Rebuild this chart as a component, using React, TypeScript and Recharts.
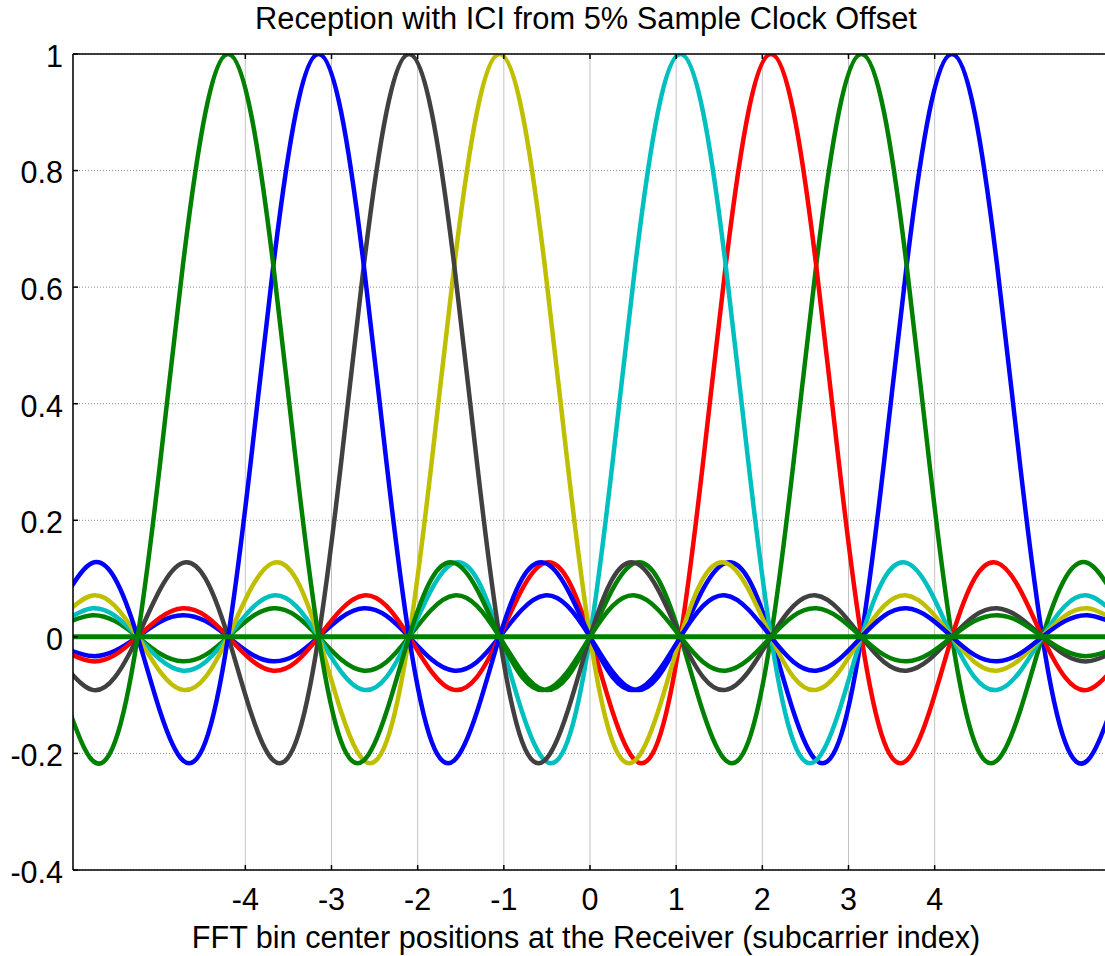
import {
  CartesianGrid,
  Line,
  LineChart,
  XAxis,
  YAxis,
} from "recharts";

// x positions of the samples (FFT bin units, spacing = 1.05/4)
const binPositions = [
  -6.0375, -5.775, -5.5125, -5.25, -4.9875, -4.725, -4.4625, -4.2, -3.9375,
  -3.675, -3.4125, -3.15, -2.8875, -2.625, -2.3625, -2.1, -1.8375, -1.575,
  -1.3125, -1.05, -0.7875, -0.525, -0.2625, 0, 0.2625, 0.525, 0.7875, 1.05,
  1.3125, 1.575, 1.8375, 2.1, 2.3625, 2.625, 2.8875, 3.15, 3.4125, 3.675,
  3.9375, 4.2, 4.4625, 4.725, 4.9875, 5.25, 5.5125, 5.775, 6.0375,
];

// received subcarrier responses
const subM4 = [
  -0.129, -0.212, -0.18, 0, 0.3, 0.637, 0.9, 1, 0.9, 0.637, 0.3, 0, -0.18,
  -0.212, -0.129, 0, 0.1, 0.127, 0.082, 0, -0.069, -0.091, -0.06, 0, 0.053,
  0.071, 0.047, 0, -0.043, -0.058, -0.039, 0, 0.036, 0.049, 0.033, 0, -0.031,
  -0.042, -0.029, 0, 0.027, 0.037, 0.026, 0, -0.024, -0.033, -0.023,
];
const subM3 = [
  0.082, 0.127, 0.1, 0, -0.129, -0.212, -0.18, 0, 0.3, 0.637, 0.9, 1, 0.9,
  0.637, 0.3, 0, -0.18, -0.212, -0.129, 0, 0.1, 0.127, 0.082, 0, -0.069,
  -0.091, -0.06, 0, 0.053, 0.071, 0.047, 0, -0.043, -0.058, -0.039, 0, 0.036,
  0.049, 0.033, 0, -0.031, -0.042, -0.029, 0, 0.027, 0.037, 0.026,
];
const subM2 = [
  -0.06, -0.091, -0.069, 0, 0.082, 0.127, 0.1, 0, -0.129, -0.212, -0.18, 0,
  0.3, 0.637, 0.9, 1, 0.9, 0.637, 0.3, 0, -0.18, -0.212, -0.129, 0, 0.1, 0.127,
  0.082, 0, -0.069, -0.091, -0.06, 0, 0.053, 0.071, 0.047, 0, -0.043, -0.058,
  -0.039, 0, 0.036, 0.049, 0.033, 0, -0.031, -0.042, -0.029,
];
const subM1 = [
  0.047, 0.071, 0.053, 0, -0.06, -0.091, -0.069, 0, 0.082, 0.127, 0.1, 0,
  -0.129, -0.212, -0.18, 0, 0.3, 0.637, 0.9, 1, 0.9, 0.637, 0.3, 0, -0.18,
  -0.212, -0.129, 0, 0.1, 0.127, 0.082, 0, -0.069, -0.091, -0.06, 0, 0.053,
  0.071, 0.047, 0, -0.043, -0.058, -0.039, 0, 0.036, 0.049, 0.033,
];
const sub0 = [
  0, 0, 0, 0, 0, 0, 0, 0, 0, 0, 0, 0, 0, 0, 0, 0, 0, 0, 0, 0, 0, 0, 0, 0, 0,
  0, 0, 0, 0, 0, 0, 0, 0, 0, 0, 0, 0, 0, 0, 0, 0, 0, 0, 0, 0, 0, 0,
];
const subP1 = [
  0.033, 0.049, 0.036, 0, -0.039, -0.058, -0.043, 0, 0.047, 0.071, 0.053, 0,
  -0.06, -0.091, -0.069, 0, 0.082, 0.127, 0.1, 0, -0.129, -0.212, -0.18, 0,
  0.3, 0.637, 0.9, 1, 0.9, 0.637, 0.3, 0, -0.18, -0.212, -0.129, 0, 0.1, 0.127,
  0.082, 0, -0.069, -0.091, -0.06, 0, 0.053, 0.071, 0.047,
];
const subP2 = [
  -0.029, -0.042, -0.031, 0, 0.033, 0.049, 0.036, 0, -0.039, -0.058, -0.043, 0,
  0.047, 0.071, 0.053, 0, -0.06, -0.091, -0.069, 0, 0.082, 0.127, 0.1, 0,
  -0.129, -0.212, -0.18, 0, 0.3, 0.637, 0.9, 1, 0.9, 0.637, 0.3, 0, -0.18,
  -0.212, -0.129, 0, 0.1, 0.127, 0.082, 0, -0.069, -0.091, -0.06,
];
const subP3 = [
  0.026, 0.037, 0.027, 0, -0.029, -0.042, -0.031, 0, 0.033, 0.049, 0.036, 0,
  -0.039, -0.058, -0.043, 0, 0.047, 0.071, 0.053, 0, -0.06, -0.091, -0.069, 0,
  0.082, 0.127, 0.1, 0, -0.129, -0.212, -0.18, 0, 0.3, 0.637, 0.9, 1, 0.9,
  0.637, 0.3, 0, -0.18, -0.212, -0.129, 0, 0.1, 0.127, 0.082,
];
const subP4 = [
  -0.023, -0.033, -0.024, 0, 0.026, 0.037, 0.027, 0, -0.029, -0.042, -0.031, 0,
  0.033, 0.049, 0.036, 0, -0.039, -0.058, -0.043, 0, 0.047, 0.071, 0.053, 0,
  -0.06, -0.091, -0.069, 0, 0.082, 0.127, 0.1, 0, -0.129, -0.212, -0.18, 0,
  0.3, 0.637, 0.9, 1, 0.9, 0.637, 0.3, 0, -0.18, -0.212, -0.129,
];

const xTicks = [-4, -3, -2, -1, 0, 1, 2, 3, 4];
const yTicks = [-0.4, -0.2, 0, 0.2, 0.4, 0.6, 0.8, 1];

// drawn in this order (last one on top)
const series = [
  { key: "p4", values: subP4, color: "#0000ff" },
  { key: "p3", values: subP3, color: "#008000" },
  { key: "p2", values: subP2, color: "#ff0000" },
  { key: "p1", values: subP1, color: "#00bfbf" },
  { key: "m1", values: subM1, color: "#bfbf00" },
  { key: "m2", values: subM2, color: "#404040" },
  { key: "m3", values: subM3, color: "#0000ff" },
  { key: "m4", values: subM4, color: "#008000" },
  { key: "z0", values: sub0, color: "#008000" },
];

const chartData = binPositions.map((x, i) => {
  const row: Record<string, number> = { x };
  series.forEach((s) => {
    row[s.key] = s.values[i];
  });
  return row;
});

const font = "'Liberation Sans', Arial, Helvetica, sans-serif";

export default function App() {
  return (
    <div
      style={{
        position: "absolute",
        left: 0,
        top: 0,
        width: 1105,
        height: 956,
        background: "#fff",
        fontFamily: font,
        overflow: "hidden",
      }}
    >
      <div
        style={{
          position: "absolute",
          left: 86,
          width: 1000,
          top: 4,
          textAlign: "center",
          fontSize: 30.8,
          lineHeight: "30px",
          whiteSpace: "nowrap",
        }}
      >
        Reception with ICI from 5% Sample Clock Offset
      </div>
      <LineChart
        width={1105}
        height={956}
        data={chartData}
        margin={{ top: 53, right: -2, bottom: 0, left: 0 }}
      >
        <CartesianGrid vertical={false} stroke="#8c8c8c" strokeDasharray="1 2" />
        <CartesianGrid horizontal={false} stroke="#c4c4c4" />
        <XAxis
          dataKey="x"
          type="number"
          domain={[-6, 6]}
          ticks={xTicks}
          interval={0}
          allowDataOverflow
          height={86}
          tickSize={-5}
          tickMargin={23}
          axisLine={{ stroke: "#000", strokeWidth: 1.5 }}
          tickLine={{ stroke: "#000", strokeWidth: 1.5 }}
          tick={{ fill: "#000", fontSize: 30.5, fontFamily: font }}
        />
        <XAxis
          xAxisId="top"
          orientation="top"
          dataKey="x"
          type="number"
          domain={[-6, 6]}
          ticks={xTicks}
          interval={0}
          allowDataOverflow
          height={1}
          tickSize={-5}
          tickFormatter={() => ""}
          axisLine={{ stroke: "#000", strokeWidth: 1.5 }}
          tickLine={{ stroke: "#000", strokeWidth: 1.5 }}
        />
        <YAxis
          type="number"
          domain={[-0.4, 1]}
          ticks={yTicks}
          interval={0}
          allowDataOverflow
          width={73}
          tickSize={-5}
          tickMargin={15}
          axisLine={{ stroke: "#000", strokeWidth: 1.5 }}
          tickLine={{ stroke: "#000", strokeWidth: 1.5 }}
          tick={{ fill: "#000", fontSize: 30.5, fontFamily: font, dy: 2 }}
        />
        <YAxis
          yAxisId="right"
          orientation="right"
          type="number"
          domain={[-0.4, 1]}
          ticks={yTicks}
          interval={0}
          width={0}
          tickSize={-8}
          tickFormatter={() => ""}
          axisLine={{ stroke: "#000", strokeWidth: 1.5 }}
          tickLine={{ stroke: "#000", strokeWidth: 2 }}
        />
        {series.map((s) => (
          <Line
            key={s.key}
            dataKey={s.key}
            type="natural"
            stroke={s.color}
            strokeWidth={s.key === "z0" ? 5 : 4.5}
            dot={false}
            activeDot={false}
            isAnimationActive={false}
          />
        ))}
      </LineChart>
      <div
        style={{
          position: "absolute",
          left: 86,
          width: 1000,
          top: 922,
          textAlign: "center",
          fontSize: 30.6,
          lineHeight: "30px",
          whiteSpace: "nowrap",
        }}
      >
        FFT bin center positions at the Receiver (subcarrier index)
      </div>
    </div>
  );
}
